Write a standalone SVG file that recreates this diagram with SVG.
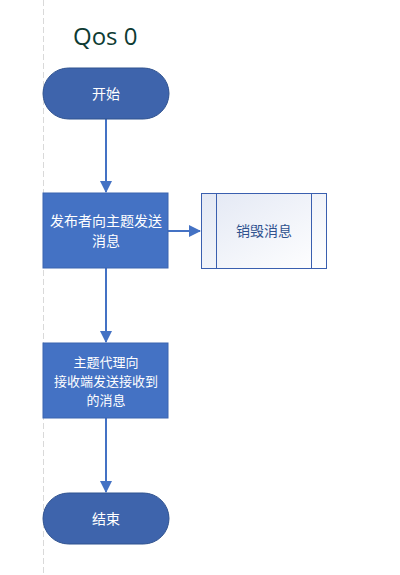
<svg xmlns="http://www.w3.org/2000/svg" width="400" height="575" viewBox="0 0 400 575">
<defs>
<style>
.term{fill:#3E64AC;stroke:#2F528F;stroke-width:1}
.proc{fill:#4472C4;stroke:#3A64B0;stroke-width:1}
.wt{fill:#FFFFFF;font-family:"Noto Sans CJK SC","Liberation Sans",sans-serif;font-size:14px;text-anchor:middle}
.conn{stroke:#4472C4;stroke-width:2;fill:none}
</style>
<linearGradient id="g" x1="0" y1="0" x2="1" y2="1">
<stop offset="0" stop-color="#E3E8F4"/>
<stop offset="1" stop-color="#FFFFFF"/>
</linearGradient>
<marker id="ah" markerWidth="12" markerHeight="12" refX="11" refY="6" orient="auto" markerUnits="userSpaceOnUse">
<path d="M0,0 L12,6 L0,12 z" fill="#4472C4"/>
</marker>
</defs>
<rect width="400" height="575" fill="#FFFFFF"/>
<line x1="43.5" y1="0" x2="43.5" y2="575" stroke="#D9D9D9" stroke-width="1" stroke-dasharray="6,3"/>
<text x="73" y="45" font-family="Open Sans, 'Liberation Sans', sans-serif" font-size="24" fill="#0E3B33">Qos 0</text>
<g id="connectors">
<line class="conn" x1="106" y1="119" x2="106" y2="192" marker-end="url(#ah)"/>
<line class="conn" x1="168" y1="231" x2="200" y2="231" marker-end="url(#ah)"/>
<line class="conn" x1="106" y1="268" x2="106" y2="342" marker-end="url(#ah)"/>
<line class="conn" x1="106" y1="418" x2="106" y2="492" marker-end="url(#ah)"/>
</g>
<g id="start">
<rect class="term" x="43" y="68" width="126" height="51" rx="25.5"/>
<text class="wt" x="106" y="99">开始</text>
</g>
<g id="publish">
<rect class="proc" x="43" y="193" width="125" height="75"/>
<text class="wt" x="106" y="226">发布者向主题发送</text>
<text class="wt" x="106" y="246">消息</text>
</g>
<g id="destroy">
<rect x="201.5" y="193.5" width="125" height="75" fill="url(#g)" stroke="#3A5FAF" stroke-width="1"/>
<line x1="216.5" y1="193.5" x2="216.5" y2="268.5" stroke="#3A5FAF" stroke-width="1"/>
<line x1="311.5" y1="193.5" x2="311.5" y2="268.5" stroke="#3A5FAF" stroke-width="1"/>
<text x="264" y="236" font-family="'Noto Sans CJK SC','Liberation Sans',sans-serif" font-size="14" fill="#2F528F" text-anchor="middle">销毁消息</text>
</g>
<g id="broker">
<rect class="proc" x="43" y="343" width="125" height="75"/>
<text class="wt" x="106" y="367" style="font-size:13px">主题代理向</text>
<text class="wt" x="106" y="386" style="font-size:13px">接收端发送接收到</text>
<text class="wt" x="106" y="405" style="font-size:13px">的消息</text>
</g>
<g id="end">
<rect class="term" x="43" y="493" width="126" height="51" rx="25.5"/>
<text class="wt" x="106" y="524">结束</text>
</g>
</svg>
